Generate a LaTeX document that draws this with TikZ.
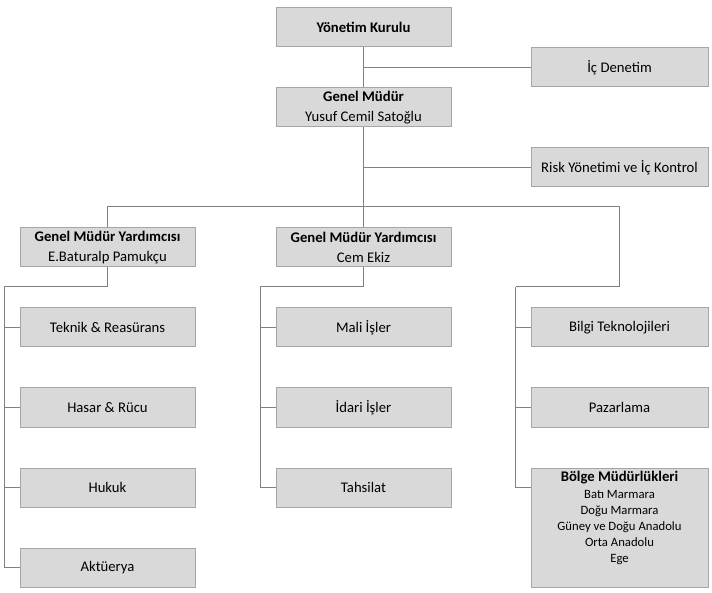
\documentclass[tikz,border=0pt]{standalone}
\usepackage{fontspec}
\setmainfont{Carlito}
\usetikzlibrary{positioning}
\definecolor{boxgray}{HTML}{D9D9D9}
\definecolor{rimgray}{HTML}{A6A6A6}
\definecolor{linkgray}{HTML}{808080}

\begin{document}
\begin{tikzpicture}
    [x=1pt, y=-1pt,
      box/.style={draw=rimgray, fill=boxgray, line width=1pt, minimum width=175pt,
        minimum height=39pt, inner sep=2pt, align=center,
        font=\fontsize{14.7}{19.5}\selectfont},
      wide/.style={box, minimum width=177pt},
      link/.style={draw=linkgray, line width=1pt},
      node distance=40pt]
    \useasboundingbox (0,0) rectangle (712,593);
    \node[box] (kurul) at (363.5,27.5) {\textbf{Yönetim Kurulu}};
    \node[wide] (denetim) at (619.5,67.5) {İç Denetim};
    \node[box, below=of kurul] (gm) {\textbf{Genel Müdür}\\Yusuf Cemil Satoğlu};
    \node[wide] (risk) at (619.5,167.5) {Risk Yönetimi ve İç Kontrol};
    \node[box] (gmy1) at (107.5,247.5) {\textbf{Genel Müdür Yardımcısı}\\E.Baturalp Pamukçu};
    \node[box] (gmy2) at (363.5,247.5) {\textbf{Genel Müdür Yardımcısı}\\Cem Ekiz};
    \node[box, below=of gmy1] (teknik) {Teknik \& Reasürans};
    \node[box, below=of teknik] (hasar) {Hasar \& Rücu};
    \node[box, below=of hasar] (hukuk) {Hukuk};
    \node[box, below=of hukuk] (aktuerya) {Aktüerya};
    \node[box, below=of gmy2] (mali) {Mali İşler};
    \node[box, below=of mali] (idari) {İdari İşler};
    \node[box, below=of idari] (tahsilat) {Tahsilat};
    \node[wide] (bilgi) at (619.5,327.5) {Bilgi Teknolojileri};
    \node[wide, below=of bilgi] (pazar) {Pazarlama};
    \node[wide, below=of pazar, minimum height=119pt, font=\fontsize{12.7}{16}\selectfont] (bolge)
      {{\fontsize{14.7}{16}\selectfont\bfseries Bölge Müdürlükleri}\\[1pt]Batı Marmara\\Doğu Marmara\\
       Güney ve Doğu Anadolu\\Orta Anadolu\\Ege\\\strut};
    \coordinate (bus) at (619.5,207);
    \coordinate (spine1) at (4.5,287);
    \coordinate (spine2) at (260.5,287);
    \coordinate (spine3) at (515.5,287);
    \draw[link] (kurul) -- (gm);
    \draw[link] (kurul.south |- denetim) -- (denetim);
    \draw[link] (gm.south) -- (gm.south |- bus);
    \draw[link] (gm.south |- risk) -- (risk);
    \draw[link] (gmy1.north) |- (bus) |- (spine3);
    \draw[link] (gmy2.north) -- (gmy2.north |- bus);
    \draw[link] (gmy1.south) |- (spine1) |- (aktuerya);
    \draw[link] (gmy2.south) |- (spine2) |- (tahsilat);
    \draw[link] (spine3) |- ([yshift=-19.5pt]bolge.north west);
    \foreach \b in {teknik, hasar, hukuk}
      \draw[link] (spine1 |- \b.west) -- (\b.west);
    \foreach \b in {mali, idari}
      \draw[link] (spine2 |- \b.west) -- (\b.west);
    \foreach \b in {bilgi, pazar}
      \draw[link] (spine3 |- \b.west) -- (\b.west);
  \end{tikzpicture}
\end{document}
